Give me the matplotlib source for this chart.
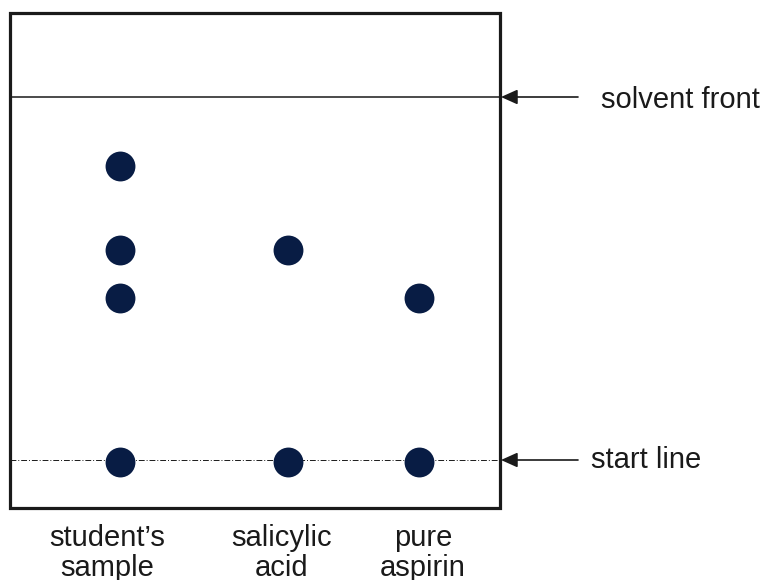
import matplotlib
matplotlib.use('Agg')
import numpy as np
from matplotlib import pyplot as plt
from matplotlib.patches import Rectangle

plt.rcParams['font.family'] = ['Liberation Sans', 'DejaVu Sans']

# chromatogram data: Rf value of every spot in each lane (0 = start line, 1 = solvent front)
lanes = ['student\u2019s\nsample', 'salicylic\nacid', 'pure\naspirin']
student_rf = [0.81, 0.579, 0.446, -0.005]
salicylic_rf = [0.579, -0.005]
aspirin_rf = [0.446, -0.005]
spots = [student_rf, salicylic_rf, aspirin_rf]

# layout (pixels across, Rf up; 363 px per Rf unit)
px = 1 / 363.0
lane_x = [120, 288, 419]
label_x = [107, 282, 423]
box_left, box_right = 10, 500
box_bottom, box_top = -0.132, 1.231
dot_color = '#081c44'
ink = '#1a1a1a'

fig = plt.figure(figsize=(7.64, 5.80), dpi=100)
ax = fig.add_axes([0, 0, 1, 1])
ax.set_xlim(0, 764)
ax.set_ylim(-120 * px, 460 * px)
ax.axis('off')

# plate outline
ax.add_patch(Rectangle((box_left, box_bottom), box_right - box_left, box_top - box_bottom,
                       fill=False, lw=2.3, ec=ink, zorder=3))

# solvent front and start line
ax.plot([box_left, box_right], [1, 1], color=ink, lw=1.1, zorder=2)
ax.plot([box_left, box_right], [0, 0], color=ink, lw=0.7,
        dashes=(6, 2, 1, 2), zorder=1)

for x, rfs in zip(lane_x, spots):
    ax.plot([x] * len(rfs), rfs, 'o', ms=21.5, color=dot_color, mec='none', zorder=4)

for x, lab in zip(label_x, lanes):
    ax.text(x, -64 * px, lab, ha='center', va='top', fontsize=21, color=ink,
            linespacing=1.08)

# arrows and their labels
for y, txt, tx, off in [(1, 'solvent front', 601, 11), (0, 'start line', 591, 8)]:
    ax.annotate('', xy=(box_right + 1, y), xytext=(578, y),
                arrowprops=dict(arrowstyle='-|>,head_length=1.0,head_width=0.45',
                                color=ink, lw=1.2, shrinkA=0, shrinkB=0))
    ax.text(tx, y - off * px, txt, ha='left', va='baseline', fontsize=21, color=ink)

plt.savefig('out.png', dpi=100)
